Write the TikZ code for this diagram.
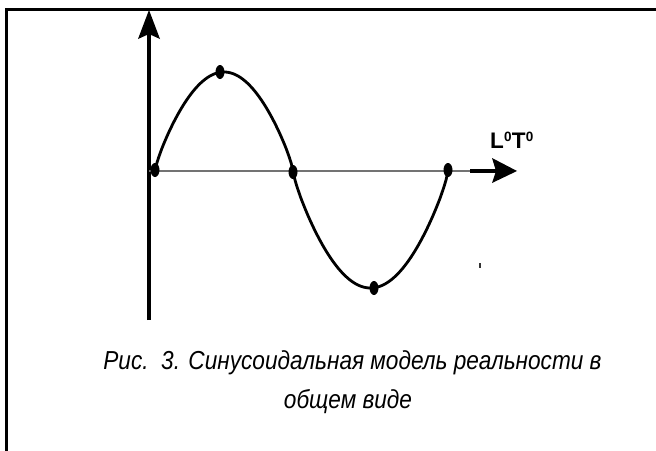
\documentclass[tikz,border=0pt]{standalone}
\usepackage{fontspec}
\usepackage{graphicx}
\setmainfont{Liberation Sans}
\tikzset{
  frameline/.style={line width=3pt, line cap=rect},
  axisline/.style={line width=3.2pt, black},
  grayaxis/.style={line width=2.4pt, gray!90!black},
  wave/.style={line width=2.8pt, black},
  dotmark/.style={fill=black, draw=none},
  captext/.style={anchor=base, inner sep=0pt, font=\itshape\fontsize{26}{30}\selectfont},
}
\begin{document}
\begin{tikzpicture}[x=1pt,y=-1pt]
\useasboundingbox (0,0) rectangle (656,450);
% frame (only top and left visible)
\coordinate (fbl) at (6,452);
\coordinate (ftl) at (6,9);
\coordinate (ftr) at (658,9);
\draw[frameline] (fbl) -- (ftl) -- (ftr);
% axes
\coordinate (o) at (149,171);
\coordinate (ybot) at (149,320);
\coordinate (ytip) at (149,10);
\coordinate (xgray) at (470,171);
\coordinate (xtip) at (517,171);
\draw[axisline] (ybot) -- (149,34);
\fill (ytip) -- (160,39) -- (149,34) -- (138,39) -- cycle;
\draw[grayaxis] (o) -- (xgray);
\draw[axisline] (xgray) -- (496,171);
\fill (xtip) -- (492,183) -- (496,171) -- (492,158) -- cycle;
% sine wave
\coordinate (p0) at (155,170);
\coordinate (p1) at (220,72);
\coordinate (p2) at (293,172);
\coordinate (p3) at (374,288);
\coordinate (p4) at (448,170);
\draw[wave] plot[domain=0:180, samples=80] ({155+\x/180*138},{171-99*pow(abs(sin(\x)),0.8)});
\draw[wave] plot[domain=0:180, samples=80] ({293+\x/180*155},{171+117*pow(abs(sin(\x)),0.8)});
\foreach \p in {p0,p1,p2,p3,p4} \fill[dotmark] (\p) ellipse [x radius=4.5, y radius=7];
% small stray tick
\coordinate (tk1) at (480,263);
\coordinate (tk2) at (480,268);
\draw[line width=1.2pt, black!80] (tk1) -- (tk2);
% label
\node[anchor=base west, inner sep=0pt, font=\bfseries\fontsize{22.5}{26}\selectfont] (lbl) at (490,148)
  {L\kern0.3pt\raisebox{6.5pt}{\fontsize{13.5}{15}\selectfont 0}T\kern0.3pt\raisebox{6.5pt}{\fontsize{13.5}{15}\selectfont 0}};
% caption
\node[captext] (cap1) at (352.5,369) {\scalebox{0.87}[1]{Рис.\ \ 3. Синусоидальная модель реальности в}};
\node[captext] (cap2) at (348,408) {\scalebox{0.87}[1]{общем виде}};
\end{tikzpicture}
\end{document}
